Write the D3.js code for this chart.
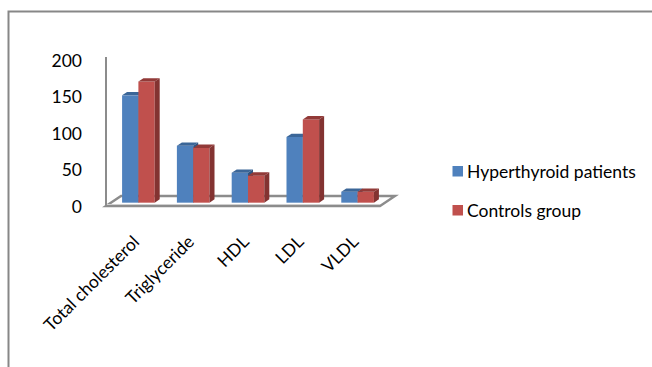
<!DOCTYPE html>
<html>
<head>
<meta charset="utf-8">
<script src="https://cdn.jsdelivr.net/npm/d3@7"></script>
<style>
  html, body { margin: 0; padding: 0; background: #fff; }
  svg { display: block; }
  text { font-family: Lato, "Open Sans", sans-serif; fill: #000; }
</style>
</head>
<body>
<script>
// Lipid profile values per group
const categories = ["Total cholesterol", "Triglyceride", "HDL", "LDL", "VLDL"];
const seriesNames = ["Hyperthyroid patients", "Controls group"];
const hyperthyroid = [147, 78, 41, 90, 15];
const controls = [166, 75, 37, 114, 15];
const yTicks = [0, 50, 100, 150, 200];

const W = 652, H = 367;
const svg = d3.select("body").append("svg").attr("width", W).attr("height", H);

// chart frame (extends beyond the visible area on the right and bottom)
svg.append("path")
  .attr("d", `M8.5,${H + 5} L8.5,11.5 L${W + 5},11.5`)
  .attr("fill", "none").attr("stroke", "#878787").attr("stroke-width", 2);

// oblique 3D projection: full floor depth vector
const depth = { x: 15, y: -10 };
const barDepthStart = 1 / 3, barDepthEnd = 2 / 3;

const x0 = d3.scaleBand().domain(categories).range([106, 380]).padding(0);
const x1 = d3.scaleBand().domain(seriesNames).range([0, x0.bandwidth()])
  .paddingInner(0).paddingOuter(0.68);
const y = d3.scaleLinear().domain([0, 200]).range([206, 60]);

const colors = {
  "Hyperthyroid patients": { front: "#4F81BD", top: "#3B6698", side: "#2F5582" },
  "Controls group": { front: "#C0504D", top: "#923A38", side: "#833331" }
};

// floor plate
const fx0 = x0.range()[0], fx1 = x0.range()[1], fy = y(0);
const floor = svg.append("g").attr("fill", "none").attr("stroke", "#8C8C8C").attr("stroke-width", 2.4);
floor.append("path")
  .attr("d", `M${fx0},${fy} L${fx0 + depth.x},${fy + depth.y} L${fx1 + depth.x},${fy + depth.y} L${fx1},${fy} Z`)
  .attr("fill", "#fff");
floor.append("line")
  .attr("x1", fx0).attr("x2", fx1).attr("y1", fy - 1.5).attr("y2", fy - 1.5)
  .attr("stroke", "#D0D0D0").attr("stroke-width", 1);

// vertical value axis line
svg.append("line")
  .attr("x1", fx0).attr("x2", fx0).attr("y1", y(0)).attr("y2", y(200) - 3)
  .attr("stroke", "#8C8C8C").attr("stroke-width", 2);

// y tick labels
svg.append("g").selectAll("text").data(yTicks).join("text")
  .attr("x", 82).attr("y", d => y(d))
  .attr("text-anchor", "end").attr("dominant-baseline", "central")
  .style("font-size", "17.5px")
  .text(d => d);

// 3D columns
const ox = depth.x * barDepthStart, oy = depth.y * barDepthStart;
const dx = depth.x * (barDepthEnd - barDepthStart), dy = depth.y * (barDepthEnd - barDepthStart);
const rows = [];
categories.forEach((c, i) => {
  rows.push({ c, s: seriesNames[0], v: hyperthyroid[i] });
  rows.push({ c, s: seriesNames[1], v: controls[i] });
});
const bars = svg.append("g");
rows.forEach(r => {
  const xl = x0(r.c) + x1(r.s) + ox;
  const w = x1.bandwidth();
  const yt = y(r.v) + oy, yb = y(0) + oy;
  const g = bars.append("g");
  g.append("rect").attr("x", xl).attr("y", yt).attr("width", w).attr("height", yb - yt)
    .attr("fill", colors[r.s].front);
  g.append("path")
    .attr("d", `M${xl},${yt} L${xl + dx},${yt + dy} L${xl + w + dx},${yt + dy} L${xl + w},${yt} Z`)
    .attr("fill", colors[r.s].top);
  g.append("path")
    .attr("d", `M${xl + w},${yt} L${xl + w + dx},${yt + dy} L${xl + w + dx},${yb + dy} L${xl + w},${yb} Z`)
    .attr("fill", colors[r.s].side);
});

// category labels, rotated
svg.append("g").selectAll("text").data(categories).join("text")
  .attr("transform", d => `translate(${x0(d) + x0.bandwidth() / 2 + 7},${243}) rotate(-45)`)
  .attr("text-anchor", "end")
  .style("font-size", "17.5px")
  .text(d => d);

// legend
const legend = svg.append("g").selectAll("g").data(seriesNames).join("g")
  .attr("transform", (d, i) => `translate(452.5,${166 + i * 39})`);
legend.append("rect").attr("width", 10.5).attr("height", 10.5)
  .attr("fill", d => colors[d].front);
legend.append("text").attr("x", 14.5).attr("y", 5.5)
  .attr("dominant-baseline", "central")
  .style("font-size", "17.5px")
  .text(d => d);
</script>
</body>
</html>
